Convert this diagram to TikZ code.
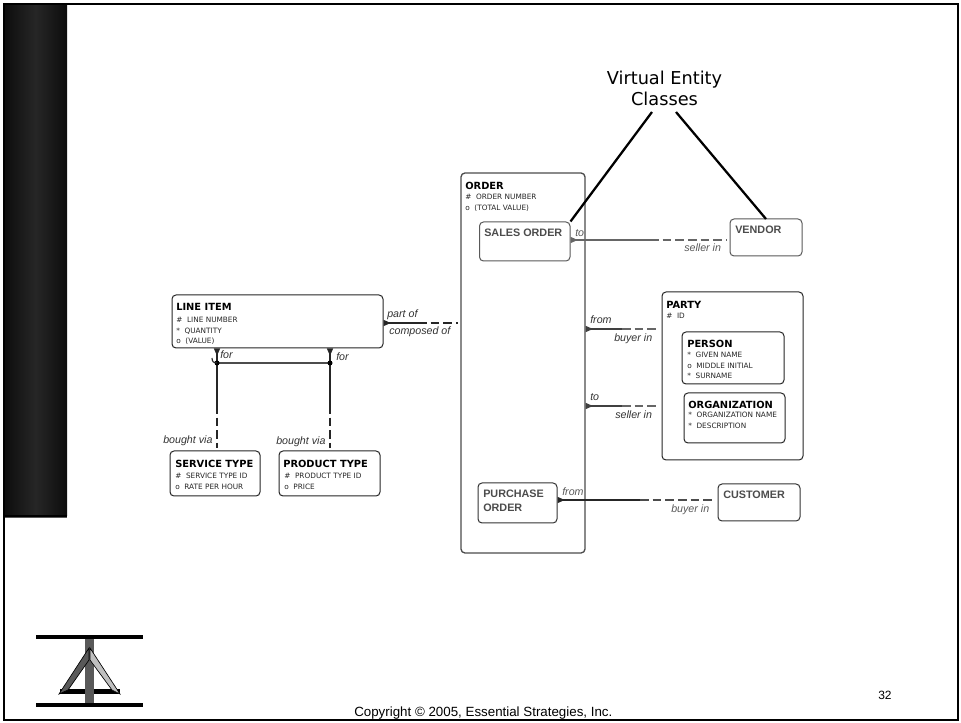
\documentclass[tikz,border=0pt]{standalone}
\usepackage{fontspec}
\setmainfont{Liberation Sans}
\newfontfamily\comicfont{DejaVu Sans}
\usetikzlibrary{arrows.meta,fit}
\tikzset{
  box/.style={draw=black!85, line width=0.75pt, rounded corners=3pt, inner sep=0pt, fill=white},
  vbox/.style={box, draw=black!65},
  titletext/.style={anchor=base west, inner sep=0pt, font=\comicfont\bfseries\fontsize{7.4}{9}\selectfont},
  attrtext/.style={anchor=north west, inner sep=0pt, align=left, font=\comicfont\fontsize{5.5}{7.8}\selectfont, text=black!85},
  vtitle/.style={anchor=north west, inner sep=0pt, align=left, font=\bfseries\fontsize{8.1}{10}\selectfont, text=black!70},
  role/.style={anchor=base west, inner sep=0pt, font=\itshape\fontsize{8}{9}\selectfont, text=black!80},
  rel/.style={line width=0.85pt, black!85},
  vrel/.style={line width=0.85pt, black!60},
  crowfoot/.style={{Stealth[reversed,inset=0pt,length=5.5pt,width=4.5pt]}-},
  halfdash/.style={dash pattern=on 6.5pt off 3pt, shorten >=2pt},
  pointer/.style={line width=1.7pt, black}
}
\begin{document}
\begin{tikzpicture}[x=0.75pt, y=-0.75pt]
  \useasboundingbox (0,0) rectangle (961,723);

  % Marco y banda lateral
  \fill[white] (0,0) rectangle (961,723);
  \shade[left color=black!95, right color=black!95, middle color=black!85] (4,4) rectangle (67,516);
  \draw[black, line width=1.9pt] (4,4) rectangle (958,720);
  \draw[black, line width=1.5pt] (4,516) -- (67,516);
  \draw[black!65, line width=0.6pt] (5,517.5) -- (67,517.5);

  % Logotipo
  \fill[black!65] (85,637) rectangle (94,705);
  \fill[black] (60,689) rectangle (120,694);
  \fill[black!65] (85,689) rectangle (94,705);
  \draw[black, line width=2.4pt] (36,637) -- (143,637);
  \draw[black, line width=2.4pt] (36,705) -- (143,705);
  \filldraw[draw=black, fill=black!65, line width=0.5pt] (89,648) -- (59,694) -- (68,690) -- (89,660) -- cycle;
  \filldraw[draw=black, fill=black!25, line width=0.5pt] (90,648) -- (120,694) -- (112,690) -- (90,660) -- cycle;

  % Entidades de la izquierda
  \node[box, fit={(172,295) (383,348)}] (lineitem) {};
  \node[box, fit={(170,451) (260,496)}] (servicetype) {};
  \node[box, fit={(279,451) (380,496)}] (producttype) {};
  \node[titletext] (lineitemtitle) at (176,311) {LINE ITEM};
  \node[attrtext] (lineitemattr) at (176,317) {\#\ \ LINE NUMBER\\*\ \ QUANTITY\\o\ \ (VALUE)};
  \node[titletext] (servicetitle) at (175,468) {SERVICE TYPE};
  \node[attrtext] (serviceattr) at (175,473) {\#\ \ SERVICE TYPE ID\\o\ \ RATE PER HOUR};
  \node[titletext] (producttitle) at (283,468) {PRODUCT TYPE};
  \node[attrtext] (productattr) at (284,473) {\#\ \ PRODUCT TYPE ID\\o\ \ PRICE};

  % Entidad central
  \node[box, draw=black!70, line width=1pt, fit={(461,173) (585,553)}] (order) {};
  \node[titletext] (ordertitle) at (465,190) {ORDER};
  \node[attrtext] (orderattr) at (465,194) {\#\ \ ORDER NUMBER\\o\ \ (TOTAL VALUE)};
  \node[vbox, fit={(479.5,222) (570,261)}] (sales) {};
  \node[vtitle] (salestitle) at (484,229) {SALES ORDER};
  \node[vbox, draw=black!80, fit={(478,483) (557,523)}] (purchase) {};
  \node[vtitle] (purchasetitle) at (483,490) {PURCHASE\\ORDER};

  % Entidades de la derecha
  \node[vbox, fit={(730,219) (802,256)}] (vendor) {};
  \node[vtitle] (vendortitle) at (735,226) {VENDOR};
  \node[vbox, draw=black!80, fit={(718,484) (800,521)}] (customer) {};
  \node[vtitle] (customertitle) at (723,491) {CUSTOMER};
  \node[box, fit={(662,292) (803,460)}] (party) {};
  \node[titletext] (partytitle) at (666,309) {PARTY};
  \node[attrtext] (partyattr) at (666,313) {\#\ \ ID};
  \node[box, fit={(682,332) (784,384)}] (person) {};
  \node[titletext] (persontitle) at (687,348) {PERSON};
  \node[attrtext] (personattr) at (687,352) {*\ \ GIVEN NAME\\o\ \ MIDDLE INITIAL\\*\ \ SURNAME};
  \node[box, fit={(684,393) (785,443)}] (organization) {};
  \node[titletext] (organizationtitle) at (688,409) {ORGANIZATION};
  \node[attrtext] (organizationattr) at (688,412) {*\ \ ORGANIZATION NAME\\*\ \ DESCRIPTION};

  % Puntos de cambio de las relaciones
  \coordinate (partmid) at (418,323);
  \coordinate (servicemid) at (217,405);
  \coordinate (productmid) at (330,405);
  \coordinate (salesmid) at (650,240);
  \coordinate (frommid) at (622,329);
  \coordinate (tomid) at (622,406);
  \coordinate (purchasemid) at (640,500);

  % Relaciones
  \draw[rel, crowfoot] (lineitem.east |- partmid) -- (partmid);
  \draw[rel, halfdash] (partmid) -- (order.west |- partmid);
  \draw[rel, crowfoot] (lineitem.south -| servicemid) -- (servicemid);
  \draw[rel, halfdash] (servicemid) -- (servicetype.north -| servicemid);
  \draw[rel, crowfoot] (lineitem.south -| productmid) -- (productmid);
  \draw[rel, halfdash] (productmid) -- (producttype.north -| productmid);
  \coordinate (barleft) at (217,363);
  \coordinate (barright) at (330,363);
  \draw[rel, black!70, line width=1pt] (barleft) -- (barright);
  \fill (barleft) circle (2.5);
  \fill (barright) circle (2.5);
  \draw[rel] (212,358) .. controls (212,362) and (214,363) .. (barleft);
  \draw[vrel, crowfoot] (sales.east |- salesmid) -- (salesmid);
  \draw[vrel, halfdash] (salesmid) -- (vendor.west |- salesmid);
  \draw[rel, black!75, crowfoot] (order.east |- frommid) -- (frommid);
  \draw[rel, black!60, halfdash] (frommid) -- (party.west |- frommid);
  \draw[rel, black!75, crowfoot] (order.east |- tomid) -- (tomid);
  \draw[rel, black!60, halfdash] (tomid) -- (party.west |- tomid);
  \draw[rel, crowfoot] (purchase.east |- purchasemid) -- (purchasemid);
  \draw[rel, black!70, halfdash] (purchasemid) -- (customer.west |- purchasemid);

  % Etiquetas de las relaciones
  \node[role] (partof) at (387,318) {part of};
  \node[role] (composedof) at (389,335) {composed of};
  \node[role] (forleft) at (220,359) {for};
  \node[role] (forright) at (336,361) {for};
  \node[role] (boughtleft) at (163,444) {bought via};
  \node[role] (boughtright) at (276,445) {bought via};
  \node[role, text=black!65] (salesto) at (575,237) {to};
  \node[role, text=black!65] (vendorseller) at (684,252) {seller in};
  \node[role] (partyfrom) at (590,324) {from};
  \node[role] (partybuyer) at (614,342) {buyer in};
  \node[role] (partyto) at (590,401) {to};
  \node[role] (partyseller) at (615,419) {seller in};
  \node[role, text=black!65] (purchasefrom) at (562,496) {from};
  \node[role, text=black!65] (customerbuyer) at (671,513) {buyer in};

  % Nota y lineas
  \node[inner sep=0pt, align=center, font=\comicfont\fontsize{13.3}{15.8}\selectfont] (virtual) at (664.5,88.5) {Virtual Entity\\Classes};
  \coordinate (virtualleft) at (652,112);
  \coordinate (virtualright) at (676,112);
  \coordinate (vendortop) at (766,219);
  \draw[pointer] (virtualleft) -- (sales.north east);
  \draw[pointer] (virtualright) -- (vendortop);

  % Pie
  \node[anchor=base west, inner sep=0pt, font=\fontsize{10}{12}\selectfont] (copyright) at (354,716) {Copyright © 2005, Essential Strategies, Inc.};
  \node[anchor=base west, inner sep=0pt, font=\fontsize{9}{11}\selectfont] (pagenumber) at (878,699) {32};
\end{tikzpicture}
\end{document}
